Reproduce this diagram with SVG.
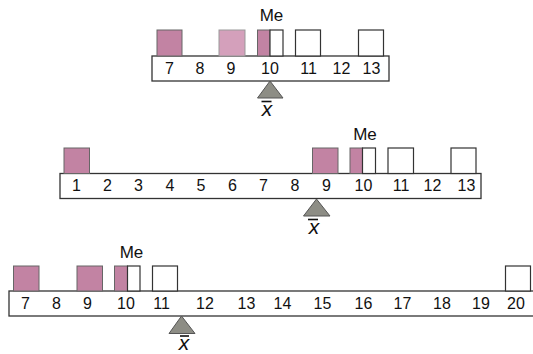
<svg xmlns="http://www.w3.org/2000/svg" width="533" height="354" viewBox="0 0 533 354">
<style>
.bar{fill:#fff;stroke:#333;stroke-width:1.3}
.dk{fill:#c283a3;stroke:#666;stroke-width:1}
.lt{fill:#d4a0bb;stroke:#999;stroke-width:1}
.wh{fill:#fff;stroke:#333;stroke-width:1.2}
.num{font-family:"Liberation Sans",Arial,sans-serif;font-size:16px;text-anchor:middle;fill:#111}
.me{font-family:"Liberation Sans",Arial,sans-serif;font-size:17px;text-anchor:middle;fill:#111}
.xb{font-family:"Liberation Sans",Arial,sans-serif;font-size:21px;font-style:italic;text-anchor:middle;fill:#111}
.tri{fill:#8d8d85;stroke:#555;stroke-width:1}
.ob{stroke:#111;stroke-width:1.6}
</style>
<g id="scale1">
<rect class="bar" x="152" y="56" width="237" height="25"/>
<rect class="dk" x="157" y="30" width="25" height="26"/>
<rect class="lt" x="219" y="30" width="26" height="26"/>
<rect class="dk" x="257.5" y="30" width="12.5" height="26"/>
<rect class="wh" x="270" y="30" width="13" height="26"/>
<rect class="wh" x="295.5" y="30" width="25" height="26"/>
<rect class="wh" x="358.5" y="30" width="25" height="26"/>
<g class="num">
<text x="169.5" y="74">7</text><text x="200" y="74">8</text><text x="231" y="74">9</text><text x="270" y="74">10</text><text x="308.5" y="74">11</text><text x="341.5" y="74">12</text><text x="371.5" y="74">13</text>
</g>
<text class="me" x="271.5" y="21">Me</text>
<polygon class="tri" points="270,81 257.5,98 283,98"/>
<line class="ob" x1="261.5" y1="101.5" x2="271.5" y2="101.5"/>
<text class="xb" x="267" y="116">x</text>
</g>
<g id="scale2">
<rect class="bar" x="60" y="173.5" width="421" height="25"/>
<rect class="dk" x="64" y="148" width="25.5" height="25.5"/>
<rect class="dk" x="312.5" y="148" width="25.5" height="25.5"/>
<rect class="dk" x="350" y="148" width="12.5" height="25.5"/>
<rect class="wh" x="362.5" y="148" width="13" height="25.5"/>
<rect class="wh" x="388" y="148" width="25.5" height="25.5"/>
<rect class="wh" x="451" y="148" width="25" height="25.5"/>
<g class="num">
<text x="76.5" y="191">1</text><text x="107.5" y="191">2</text><text x="138.5" y="191">3</text><text x="170" y="191">4</text><text x="201" y="191">5</text><text x="232.5" y="191">6</text><text x="263.5" y="191">7</text><text x="295" y="191">8</text><text x="326.5" y="191">9</text><text x="363.5" y="191">10</text><text x="401" y="191">11</text><text x="432.5" y="191">12</text><text x="466.5" y="191">13</text>
</g>
<text class="me" x="365" y="140">Me</text>
<polygon class="tri" points="316.5,199 303.5,216 330,216"/>
<line class="ob" x1="308" y1="219.5" x2="318" y2="219.5"/>
<text class="xb" x="314" y="234">x</text>
</g>
<g id="scale3">
<rect class="bar" x="9" y="291" width="540" height="25"/>
<rect class="dk" x="13.5" y="266" width="25.5" height="25"/>
<rect class="dk" x="77" y="266" width="25.5" height="25"/>
<rect class="dk" x="114.5" y="266" width="13" height="25"/>
<rect class="wh" x="127.5" y="266" width="12.5" height="25"/>
<rect class="wh" x="152.5" y="266" width="25" height="25"/>
<rect class="wh" x="505.5" y="266" width="25" height="25"/>
<g class="num">
<text x="25.5" y="309">7</text><text x="56.5" y="309">8</text><text x="87.5" y="309">9</text><text x="126" y="309">10</text><text x="161.5" y="309">11</text><text x="205" y="309">12</text><text x="246.5" y="309">13</text><text x="282.5" y="309">14</text><text x="322.5" y="309">15</text><text x="363.5" y="309">16</text><text x="402.5" y="309">17</text><text x="442" y="309">18</text><text x="481" y="309">19</text><text x="516" y="309">20</text>
</g>
<text class="me" x="131.5" y="258">Me</text>
<polygon class="tri" points="181.5,316 169,333.5 195,333.5"/>
<line class="ob" x1="180" y1="336" x2="189" y2="336"/>
<text class="xb" x="184" y="349.5">x</text>
</g>
</svg>
